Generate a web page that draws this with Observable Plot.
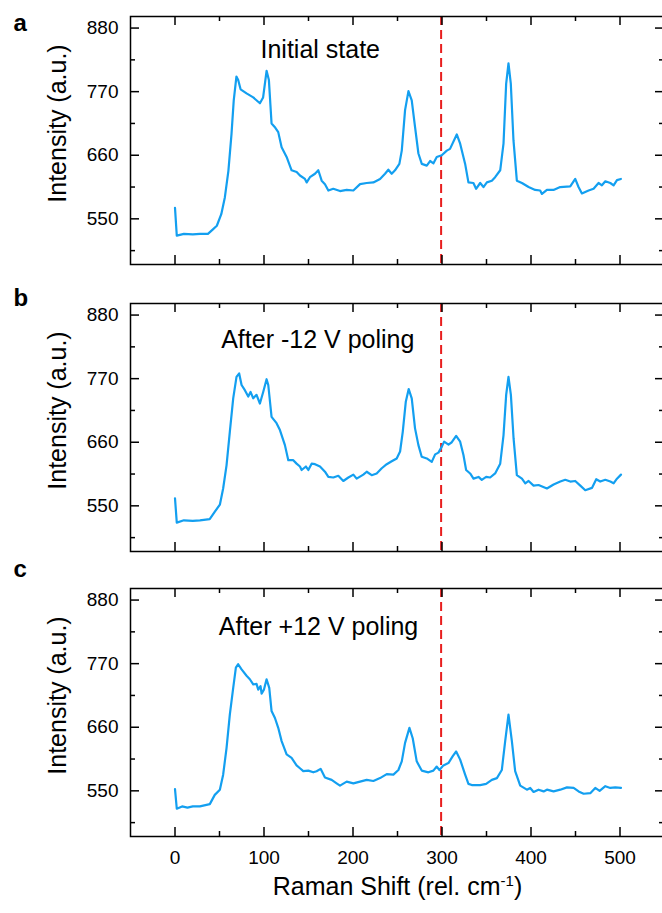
<!DOCTYPE html>
<html><head><meta charset="utf-8">
<script src="https://cdn.jsdelivr.net/npm/d3@7"></script>
<script src="https://cdn.jsdelivr.net/npm/@observablehq/plot@0.6"></script>
<style>
body{margin:0;background:#fff;overflow:hidden;}
#wrap{position:relative;width:662px;height:913px;overflow:hidden;}
#wrap svg{position:absolute;left:0;}
</style></head><body><div id="wrap"></div>
<script>
// ---- data (Raman shift, intensity) ----
const spectrumA = [[0,569],[2,521],[10,524],[20,523],[28,524],[37,524],[42,531],[47,538],[52,558],[56,587],[60,633],[63.5,697],[66,755],[69,796],[71,790],[73.7,774],[80.4,767],[87.9,760],[95.4,750],[99,760],[102.9,806],[105.5,790],[108.5,715],[112,709],[116,700],[119.8,674],[125.4,657],[131,634],[136.7,631],[140.4,625],[146,619],[148,613],[151.6,622],[157.3,628],[161,634],[164.8,616],[168.5,610],[172.3,599],[177.8,602],[185.4,598],[192.9,600],[200.4,599],[207.9,610],[215.4,612],[222.9,613],[230.4,619],[236,628],[239.7,635],[243.5,628],[247.2,634],[252.1,645],[254.8,668],[258.5,738],[262.3,771],[266,755],[269.7,709],[273.5,663],[277.3,645],[282.9,642],[286.6,650],[290.4,646],[294.1,657],[299.7,660],[305.4,668],[309,671],[316.6,696],[320.4,680],[326,645],[329.7,613],[335.3,612],[338.3,602],[342.9,612],[346.6,605],[350.4,613],[356,616],[359.7,622],[365.4,634],[369.1,680],[372.1,784],[374.7,819],[377.3,784],[380.3,686],[384.1,616],[389.8,612],[397.3,605],[404.7,600],[410.3,599],[412.3,593],[417.9,600],[425.3,600],[432.8,605],[444.1,606],[449.7,619],[453.4,605],[457.2,594],[464.7,599],[470.3,602],[475.9,612],[479.7,608],[483.5,615],[489.1,612],[492.8,608],[496.6,617],[501,619]];
const spectrumB = [[0,563],[2,521],[10,525],[20,524],[28,525],[39,527],[44.8,540],[50.4,552],[54.1,580],[57.9,620],[61.6,678],[65.4,736],[69.1,773],[72.1,779],[74.8,759],[78.5,750],[82.3,739],[84.9,747],[87.9,736],[91.6,742],[95.4,727],[99.1,747],[102.9,769],[104.8,759],[108.5,704],[114.1,693],[117.9,681],[123.5,655],[127.3,629],[132.9,629],[136.6,623],[140.4,618],[142.3,612],[147.1,618],[149.8,612],[153.5,623],[157.3,622],[162.9,618],[168.5,609],[172.3,600],[177.9,599],[183.5,602],[189.1,593],[194.8,599],[200.4,604],[204.1,597],[211.6,604],[215.4,609],[221,603],[226.6,606],[232.3,615],[237.9,622],[243.5,627],[249.1,632],[252.9,644],[255.9,678],[259.3,730],[262.6,752],[266,736],[269.7,684],[273.5,655],[277.2,635],[282.9,632],[288.5,626],[292.3,639],[296,642],[299.7,652],[302.4,661],[307.3,656],[311,660],[315.9,671],[320.4,661],[324.1,638],[327.1,612],[331.6,606],[335.4,597],[341,600],[344.7,595],[349.6,600],[354.1,599],[359.7,606],[365.4,623],[369.1,672],[372.1,742],[374.7,773],[377.4,742],[380.4,667],[384.1,603],[389.8,597],[393.6,589],[397.3,593],[402.9,585],[408.5,586],[417.9,580],[425.4,587],[432.9,592],[438.5,595],[444.1,592],[449.7,593],[455.4,585],[461,577],[468.5,581],[473.3,596],[477.8,592],[483.5,595],[489.1,592],[492.8,589],[496.6,597],[501.1,604]];
const spectrumC = [[0,553],[2,519],[8,523],[14,521],[20,523],[28,523],[39.1,527],[44.7,543],[50.4,552],[54.1,578],[57.9,624],[61.6,682],[65.4,728],[68.4,763],[71,769],[74.8,760],[80.4,749],[84.1,743],[87.9,734],[91.6,735],[93.5,725],[96.1,731],[97.3,718],[99.9,725],[102.9,743],[105.9,728],[108.5,688],[112.3,676],[116,659],[119.8,636],[125.4,613],[131,607],[136.6,594],[140.4,589],[144.1,584],[149.8,585],[155.4,582],[159.1,584],[163.6,588],[168.5,573],[176,569],[181.6,563],[185.4,559],[192.9,566],[200.4,563],[207.9,566],[215.4,569],[222.9,567],[230.4,572],[237.9,579],[245.4,578],[251,586],[254.8,601],[258.5,633],[263.4,659],[267.1,641],[271.6,601],[277.2,585],[284.7,582],[290.3,585],[294.1,592],[297.1,586],[301.6,594],[307.2,598],[312.1,610],[315.9,618],[320.4,604],[326,578],[329.7,562],[333.5,560],[342.9,560],[349.6,562],[356,569],[361.7,572],[367.2,586],[371,636],[374.7,682],[378.5,636],[382.2,584],[387.9,559],[395.4,552],[399.1,555],[402.9,548],[408.5,552],[414.2,549],[417.9,552],[425.4,549],[432.9,552],[440.4,556],[447.9,555],[453.5,549],[459.1,545],[466.6,546],[472.2,555],[477.1,550],[483.5,558],[489.1,555],[494.7,556],[501.1,555]];

const panelLetters = ["a", "b", "c"];
const panelTitles = ["Initial state", "After -12 V poling", "After +12 V poling"];
const markerShift = 299;
const xMajor = [0, 100, 200, 300, 400, 500];
const xMinor = [50, 150, 250, 350, 450];
const yMajor = [550, 660, 770, 880];
const yMinor = [495, 605, 715, 825];
const yTitle = "Intensity (a.u.)";
const xTitle = "Raman Shift (rel. cm-1)";

// ---- layout ----
const W = 662, mL = 130, mR = -2, mT = 16, plotH = 248;
const plotW = W - mL - mR;
const font = "'Liberation Sans', Arial, Helvetica, sans-serif";
const blue = "#139ff0";
const red = "#e81e1e";

const panels = [
  {data: spectrumA, top: 0,   height: 287, tdx: 130,  tdy: 23.5, ldy: -3,  showX: false},
  {data: spectrumB, top: 287, height: 287, tdx: 90.7, tdy: 26.3, ldy: -15, showX: false},
  {data: spectrumC, top: 572, height: 341, tdx: 88.3, tdy: 28.3, ldy: -29, showX: true}
];

const wrap = document.getElementById("wrap");

panels.forEach((p, i) => {
  const marks = [
    Plot.ruleX([markerShift], {x: d => d, stroke: red, strokeWidth: 2, strokeDasharray: "9,5"}),
    Plot.line(p.data, {x: d => d[0], y: d => d[1], stroke: blue, strokeWidth: 2.2, strokeLinejoin: "round"}),
    Plot.tickX(xMajor, {x: d => d, insetTop: plotH - 9, strokeWidth: 1.5}),
    Plot.tickX(xMajor, {x: d => d, insetBottom: plotH - 9, strokeWidth: 1.5}),
    Plot.tickX(xMinor, {x: d => d, insetTop: plotH - 5, strokeWidth: 1.5}),
    Plot.tickX(xMinor, {x: d => d, insetBottom: plotH - 5, strokeWidth: 1.5}),
    Plot.tickY(yMajor, {y: d => d, insetRight: plotW - 9, strokeWidth: 1.5}),
    Plot.tickY(yMajor, {y: d => d, insetLeft: plotW - 9, strokeWidth: 1.5}),
    Plot.tickY(yMinor, {y: d => d, insetRight: plotW - 5, strokeWidth: 1.5}),
    Plot.tickY(yMinor, {y: d => d, insetLeft: plotW - 5, strokeWidth: 1.5}),
    Plot.axisY({ticks: yMajor, tickSize: 0, tickPadding: 12, fontSize: 19, label: null}),
    Plot.text([yTitle], {text: d => d, frameAnchor: "left", rotate: -90, dx: -73, dy: -17, fontSize: 25, textAnchor: "middle", lineAnchor: "middle"}),
    Plot.text([panelTitles[i]], {text: d => d, frameAnchor: "top-left", dx: p.tdx, dy: p.tdy, fontSize: 25, textAnchor: "start", lineAnchor: "top"}),
    Plot.text([panelLetters[i]], {text: d => d, frameAnchor: "top-left", dx: -117, dy: p.ldy, fontSize: 24, fontWeight: "bold", textAnchor: "start", lineAnchor: "top"}),
    Plot.frame({stroke: "black", strokeWidth: 1.5})
  ];
  if (p.showX) {
    marks.push(Plot.axisX({ticks: xMajor, tickSize: 0, tickPadding: 13.5, fontSize: 19, label: null}));
    marks.push(Plot.text([xTitle], {text: d => d, frameAnchor: "bottom", dy: 41, fontSize: 25, textAnchor: "middle", lineAnchor: "top"}));
  }
  const chart = Plot.plot({
    width: W, height: p.height,
    marginLeft: mL, marginRight: mR, marginTop: mT, marginBottom: p.height - mT - plotH,
    x: {domain: [-50, 550], ...(p.showX ? {} : {axis: null})},
    y: {domain: [471, 900]},
    style: {fontFamily: font, overflow: "visible", background: "transparent", color: "black"},
    marks
  });
  chart.style.top = p.top + "px";
  wrap.appendChild(chart);

  if (p.showX) {
    d3.select(chart).selectAll("text").filter(function() { return this.textContent === xTitle; })
      .each(function() {
        const t = d3.select(this);
        t.text(null);
        t.append("tspan").text("Raman Shift (rel. cm");
        t.append("tspan").attr("font-size", "15px").attr("dy", "-9").text("-1");
        t.append("tspan").attr("dy", "9").text(")");
      });
  }
});
</script>
</body></html>
